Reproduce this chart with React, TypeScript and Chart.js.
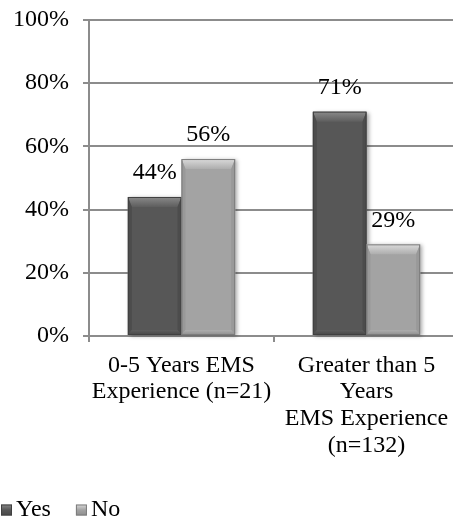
import React, { useEffect, useRef } from "react";
import { Chart, registerables } from "chart.js";

Chart.register(...registerables);

// Category labels (multi-line)
const categories: string[][] = [
  ["0-5 Years EMS", "Experience (n=21)"],
  ["Greater than 5", "Years", "EMS Experience", "(n=132)"],
];

// Percent of respondents per group
const yesValues: number[] = [44, 71];
const noValues: number[] = [56, 29];

const seriesNames: string[] = ["Yes", "No"];

// Y axis ticks (percent)
const yTicks: number[] = [0, 20, 40, 60, 80, 100];

const FONT = "'Liberation Serif', 'Times New Roman', serif";
const FONT_SIZE = 24;

type Bevel = { top: string; mid: string; edge: string; side: string; bottom: string };

const bevels: Bevel[] = [
  { top: "#8a8a8a", mid: "#5e5e5e", edge: "#404040", side: "#4c4c4c", bottom: "#474747" },
  { top: "#dadada", mid: "#adadad", edge: "#7c7c7c", side: "#999999", bottom: "#8e8e8e" },
];

function barBox(bar: any) {
  const p = bar.getProps(["x", "y", "base", "width"], true);
  return { l: p.x - p.width / 2, r: p.x + p.width / 2, t: p.y, b: p.base, x: p.x };
}

// Soft drop shadow behind each bar
const barShadow = {
  id: "barShadow",
  beforeDatasetsDraw(chart: any) {
    const ctx = chart.ctx;
    ctx.save();
    chart.getSortedVisibleDatasetMetas().forEach((meta: any) => {
      meta.data.forEach((bar: any) => {
        const { l, r, t, b } = barBox(bar);
        ctx.shadowColor = "rgba(0,0,0,0.35)";
        ctx.shadowBlur = 4;
        ctx.shadowOffsetX = 2;
        ctx.shadowOffsetY = 1;
        ctx.fillStyle = "#ffffff";
        ctx.fillRect(l, t, r - l, b - t);
      });
    });
    ctx.restore();
  },
};

// Chamfered (bevelled) edges drawn over each bar
const barBevel = {
  id: "barBevel",
  afterDatasetsDraw(chart: any) {
    const ctx = chart.ctx;
    ctx.save();
    chart.getSortedVisibleDatasetMetas().forEach((meta: any) => {
      const bv = bevels[meta.index];
      meta.data.forEach((bar: any) => {
        const { l, r, t, b } = barBox(bar);
        const tc = 10;
        const sc = 4;
        const bc = 5;
        // top chamfer
        const g = ctx.createLinearGradient(0, t, 0, t + tc);
        g.addColorStop(0, bv.top);
        g.addColorStop(1, bv.mid);
        ctx.fillStyle = g;
        ctx.beginPath();
        ctx.moveTo(l, t);
        ctx.lineTo(r, t);
        ctx.lineTo(r - sc, t + tc);
        ctx.lineTo(l + sc, t + tc);
        ctx.closePath();
        ctx.fill();
        // left chamfer
        ctx.fillStyle = bv.side;
        ctx.beginPath();
        ctx.moveTo(l, t);
        ctx.lineTo(l + sc, t + tc);
        ctx.lineTo(l + sc, b - bc);
        ctx.lineTo(l, b);
        ctx.closePath();
        ctx.fill();
        // right chamfer
        ctx.beginPath();
        ctx.moveTo(r, t);
        ctx.lineTo(r - sc, t + tc);
        ctx.lineTo(r - sc, b - bc);
        ctx.lineTo(r, b);
        ctx.closePath();
        ctx.fill();
        // bottom chamfer
        const gb = ctx.createLinearGradient(0, b - bc, 0, b);
        gb.addColorStop(0, bv.mid);
        gb.addColorStop(1, bv.bottom);
        ctx.fillStyle = gb;
        ctx.beginPath();
        ctx.moveTo(l, b);
        ctx.lineTo(r, b);
        ctx.lineTo(r - sc, b - bc);
        ctx.lineTo(l + sc, b - bc);
        ctx.closePath();
        ctx.fill();
        // outline
        ctx.strokeStyle = bv.edge;
        ctx.lineWidth = 1;
        ctx.strokeRect(l + 0.5, t + 0.5, r - l - 1, b - t - 1);
      });
    });
    ctx.restore();
  },
};

// Value labels above bars
const valueLabels = {
  id: "valueLabels",
  afterDatasetsDraw(chart: any) {
    const ctx = chart.ctx;
    ctx.save();
    ctx.font = `${FONT_SIZE}px ${FONT}`;
    ctx.fillStyle = "#000000";
    ctx.textAlign = "center";
    ctx.textBaseline = "middle";
    chart.getSortedVisibleDatasetMetas().forEach((meta: any) => {
      const ds = chart.data.datasets[meta.index];
      meta.data.forEach((bar: any, i: number) => {
        const { x, t } = barBox(bar);
        ctx.fillText(`${ds.data[i]}%`, x, t - 24);
      });
    });
    ctx.restore();
  },
};

// Legend in the lower-left corner
const cornerLegend = {
  id: "cornerLegend",
  afterDraw(chart: any) {
    const ctx = chart.ctx;
    ctx.save();
    ctx.font = `${FONT_SIZE}px ${FONT}`;
    ctx.textBaseline = "middle";
    ctx.textAlign = "left";
    let x = 1;
    const cy = 510;
    const box = 11;
    chart.data.datasets.forEach((ds: any, i: number) => {
      const bv = bevels[i];
      const g = ctx.createLinearGradient(0, cy - box / 2, 0, cy + box / 2);
      g.addColorStop(0, bv.top);
      g.addColorStop(0.5, ds.backgroundColor);
      g.addColorStop(1, bv.bottom);
      ctx.fillStyle = g;
      ctx.fillRect(x, cy - box / 2, box, box);
      ctx.strokeStyle = bv.edge;
      ctx.lineWidth = 1;
      ctx.strokeRect(x + 0.5, cy - box / 2 + 0.5, box - 1, box - 1);
      ctx.fillStyle = "#000000";
      const tx = x + box + 4;
      ctx.fillText(ds.label, tx, cy);
      x = tx + ctx.measureText(ds.label).width + 25;
    });
    ctx.restore();
  },
};

export default function App() {
  const canvasRef = useRef<HTMLCanvasElement | null>(null);

  useEffect(() => {
    const canvas = canvasRef.current;
    if (!canvas) return;
    const chart = new Chart(canvas, {
      type: "bar",
      data: {
        labels: categories,
        datasets: [
          {
            label: seriesNames[0],
            data: yesValues,
            backgroundColor: "#575757",
            borderWidth: 0,
            categoryPercentage: 0.58,
            barPercentage: 1,
          },
          {
            label: seriesNames[1],
            data: noValues,
            backgroundColor: "#a3a3a3",
            borderWidth: 0,
            categoryPercentage: 0.58,
            barPercentage: 1,
          },
        ],
      },
      options: {
        responsive: false,
        animation: false,
        devicePixelRatio: 1,
        layout: { padding: { top: 20, left: 0, right: 3, bottom: 0 } },
        plugins: {
          legend: { display: false },
          tooltip: { enabled: false },
        },
        scales: {
          x: {
            grid: {
              offset: true,
              drawOnChartArea: false,
              drawTicks: true,
              tickLength: 6,
              color: "#8c8c8c",
              lineWidth: 2,
            },
            border: { display: true, color: "#8c8c8c", width: 2 },
            ticks: {
              color: "#000000",
              font: { family: FONT, size: FONT_SIZE, lineHeight: 1.11 },
              padding: 10,
              maxRotation: 0,
              autoSkip: false,
            },
            afterFit(scale: any) {
              scale.height = 185;
              scale.paddingLeft = 0;
              scale.paddingRight = 0;
              scale.paddingTop = 0;
              scale.paddingBottom = 0;
            },
          },
          y: {
            min: 0,
            max: 100,
            afterBuildTicks(scale: any) {
              scale.ticks = yTicks.map((v) => ({ value: v }));
            },
            grid: {
              color: "#8c8c8c",
              lineWidth: 2,
              drawTicks: true,
              tickLength: 6,
            },
            border: { display: true, color: "#8c8c8c", width: 2 },
            ticks: {
              color: "#000000",
              font: { family: FONT, size: FONT_SIZE },
              padding: 14,
              callback: (v: any) => `${v}%`,
            },
            afterFit(scale: any) {
              scale.width = 89;
              scale.paddingTop = 0;
              scale.paddingBottom = 0;
              scale.paddingLeft = 0;
              scale.paddingRight = 0;
            },
          },
        },
      },
      plugins: [barShadow, barBevel, valueLabels, cornerLegend],
    } as any);
    return () => chart.destroy();
  }, []);

  return (
    <div
      style={{
        position: "fixed",
        left: 0,
        top: 0,
        width: 453,
        height: 521,
        overflow: "hidden",
        background: "#ffffff",
      }}
    >
      <canvas ref={canvasRef} width={462} height={521} style={{ width: 462, height: 521, display: "block" }} />
    </div>
  );
}
